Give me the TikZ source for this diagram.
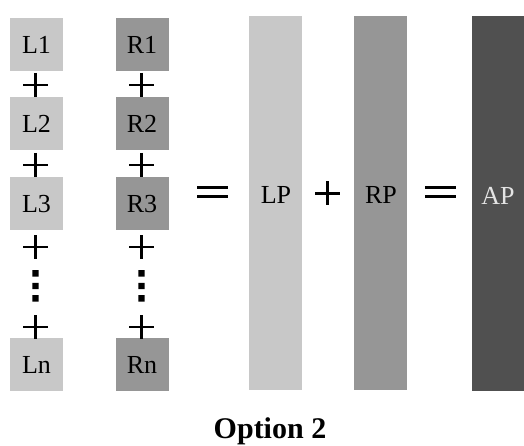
\documentclass[tikz,border=0pt]{standalone}
\usepackage{fontspec}
\setmainfont{Liberation Serif}
\definecolor{lgray}{RGB}{200,200,200}
\definecolor{mgray}{RGB}{150,150,150}
\definecolor{dgray}{RGB}{80,80,80}
\definecolor{aptext}{RGB}{228,228,228}
\tikzset{
  cell/.style={minimum width=53pt, minimum height=53pt, inner sep=0pt, font=\fontsize{26}{26}\selectfont},
  lcell/.style={cell, fill=lgray},
  rcell/.style={cell, fill=mgray},
  bar/.style={minimum width=53pt, minimum height=374pt, inner sep=0pt},
  barlabel/.style={inner sep=0pt, font=\fontsize{26}{26}\selectfont},
  plussign/.pic={\draw[line width=2.5pt] (-12.5,0) -- (12.5,0) (0,-12) -- (0,12);},
  eqsign/.pic={\draw[line width=2.8pt] (-15.5,-4.5) -- (15.5,-4.5) (-15.5,4.5) -- (15.5,4.5);},
  vdots/.pic={\fill (-3.2,-16) rectangle (3.2,-9.5) (-3.2,-3.2) rectangle (3.2,3.2) (-3.2,9.2) rectangle (3.2,15.7);}
}
\begin{document}
\begin{tikzpicture}[x=1pt,y=-1pt]
\useasboundingbox[fill=white] (0,0) rectangle (524,446);
% left column
\node[lcell] (L1) at (36.5,44.5) {L1};
\node[lcell] (L2) at (36.5,124) {L2};
\node[lcell] (L3) at (36.5,204) {L3};
\node[lcell] (Ln) at (36.5,364.5) {Ln};
% right column
\node[rcell] (R1) at (142,44.5) {R1};
\node[rcell] (R2) at (142,124) {R2};
\node[rcell] (R3) at (142,204) {R3};
\node[rcell] (Rn) at (142,364.5) {Rn};
% operators in columns
\foreach \cx in {35.5,141.5}{
  \pic at (\cx,85) {plussign};
  \pic at (\cx,165) {plussign};
  \pic at (\cx,247) {plussign};
  \pic at (\cx,286) {vdots};
  \pic at (\cx,327) {plussign};
}
% bars
\node[bar, fill=lgray] (LPbar) at (275.5,203) {};
\node[bar, fill=mgray] (RPbar) at (380,203) {};
\fill[dgray] (472,16) rectangle (524,391);
\node[barlabel] (LP) at (276,195) {LP};
\node[barlabel] (RP) at (381,195) {RP};
\node[barlabel, text=aptext] (AP) at (498,196) {AP};
% operators between
\pic at (212.5,192) {eqsign};
\pic at (327.5,193.5) {plussign};
\pic at (440.5,192) {eqsign};
% caption
\node[font=\fontsize{30}{30}\selectfont\bfseries, anchor=base] (cap) at (270,438) {Option 2};
\end{tikzpicture}
\end{document}
